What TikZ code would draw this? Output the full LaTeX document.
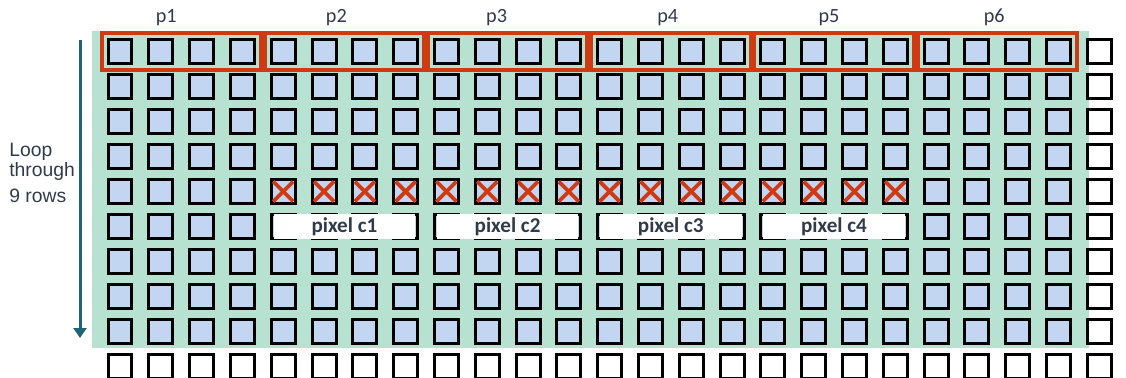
\documentclass[tikz,border=0pt]{standalone}
\usepackage{fontspec}
\setmainfont{Carlito}
\newfontfamily\loopfont{Liberation Sans}
\usepackage{tikz}
\usetikzlibrary{fit,positioning,arrows.meta}
\definecolor{gridgreen}{RGB}{183,226,209}
\definecolor{cellblue}{RGB}{194,214,241}
\definecolor{boxred}{RGB}{208,58,18}
\definecolor{looparrow}{RGB}{31,99,117}
\definecolor{labeltext}{RGB}{47,59,76}

\begin{document}
\begin{tikzpicture}[x=0.02cm,y=-0.02cm,
        cell/.style={rectangle,draw=black,line width=0.06cm,fill=cellblue,minimum size=0.48cm,inner sep=0pt},
        spare/.style={cell,fill=white},
        pbox/.style={rectangle,draw=boxred,line width=0.08cm,inner xsep=0.1cm,inner ysep=0.1cm},
        plabel/.style={font=\fontsize{11.5}{12}\selectfont,text=labeltext,inner sep=1pt},
        pixbox/.style={rectangle,fill=white,inner xsep=-0.08cm,inner ysep=-0.02cm},
        pixlabel/.style={font=\bfseries\fontsize{12}{13}\selectfont,text=labeltext},
        cross/.style={draw=boxred,line width=0.075cm}]
    \useasboundingbox (0,0) rectangle (1126,378);
    \fill[gridgreen] (92,31) rectangle (1089,348);

    % image cells, 9 rows x 24 columns, plus the padding column and row
    \foreach \c in {1,...,24}
        \foreach \r in {1,...,9}
            \node[cell] (s-\r-\c) at ({120+40.8*(\c-1)},{51.5+35*(\r-1)}) {};
    \foreach \r in {1,...,10}
        \node[spare] (s-\r-25) at ({120+40.8*24},{51.5+35*(\r-1)}) {};
    \foreach \c in {1,...,24}
        \node[spare] (s-10-\c) at ({120+40.8*(\c-1)},{51.5+35*9}) {};

    % groups of 4 pixels
    \foreach \k/\a/\b/\dx in {1/1/4/-15,2/5/8/-8,3/9/12/-11,4/13/16/-3,5/17/20/-5,6/21/24/-3}{
        \node[pbox,fit=(s-1-\a)(s-1-\b)] (p\k) {};
        \node[plabel,above=2pt of p\k.north,xshift=\dx*0.02cm] (p\k-label) {p\k};
    }

    % row being read
    \foreach \c in {5,...,20}{
        \draw[cross] ([shift={(-10,-10)}]s-5-\c.center) -- ([shift={(10,10)}]s-5-\c.center);
        \draw[cross] ([shift={(-10,10)}]s-5-\c.center) -- ([shift={(10,-10)}]s-5-\c.center);
    }

    % output pixels
    \foreach \k/\a/\b in {1/5/8,2/9/12,3/13/16,4/17/20}{
        \node[pixbox,fit=(s-6-\a)(s-6-\b)] (c\k) {};
        \node[pixlabel] (c\k-label) at (c\k) {pixel c\k};
    }

    \coordinate (loop start) at (80,40);
    \coordinate (loop end) at (80,338);
    \draw[looparrow,line width=0.06cm,-{Triangle[width=0.26cm,length=0.2cm]}] (loop start) -- (loop end);
    \node[anchor=north west,align=left,inner sep=0pt,text=labeltext,font=\loopfont\fontsize{11}{11.4}\selectfont] (loop) at (9,143)
        {Loop\\through\\[3.4pt]9 rows};
\end{tikzpicture}
\end{document}
